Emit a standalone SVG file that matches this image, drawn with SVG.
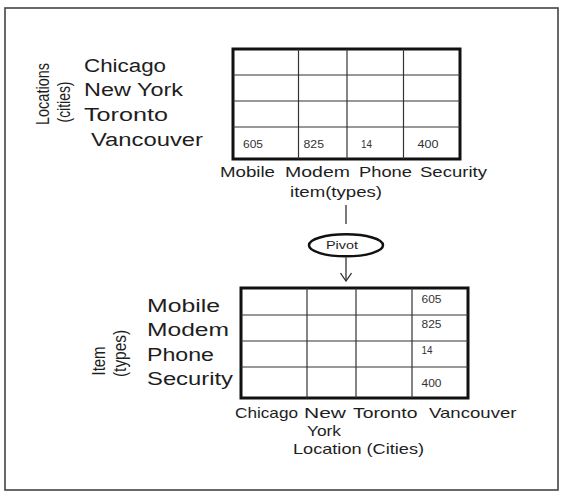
<svg xmlns="http://www.w3.org/2000/svg" width="567" height="504" viewBox="0 0 567 504">
<style>
  text { font-family: "Liberation Sans", Arial, sans-serif; fill: #1e1e1e; }
  .lbl { font-size: 18px; }
  .lbl2 { font-size: 18px; }
  .ax { font-size: 15px; }
  .val { font-size: 11px; fill: #333; }
  .grid { stroke: #333; stroke-width: 1.2; fill: none; }
  .frame { stroke: #111; stroke-width: 3; fill: none; }
  .conn { stroke: #333; stroke-width: 1.3; fill: none; }
</style>
<defs>
  <marker id="vhead" viewBox="0 0 10 12" refX="9" refY="6" markerWidth="10" markerHeight="12" markerUnits="userSpaceOnUse" orient="auto">
    <path d="M1,0.5 L9,6 L1,11.5" fill="none" stroke="#333" stroke-width="1.3"/>
  </marker>
</defs>
<rect x="0" y="0" width="567" height="504" fill="#ffffff"/>
<rect id="outer-border" x="5" y="8" width="553" height="482" fill="#ffffff" stroke="#444" stroke-width="1.6"/>

<g id="top-axis-labels">
  <text class="lbl2" transform="translate(49,94) rotate(-90)" text-anchor="middle" textLength="62" lengthAdjust="spacingAndGlyphs">Locations</text>
  <text class="lbl2" transform="translate(70,102) rotate(-90)" text-anchor="middle" textLength="41" lengthAdjust="spacingAndGlyphs">(cities)</text>
  <text class="lbl" x="84" y="72" textLength="82" lengthAdjust="spacingAndGlyphs">Chicago</text>
  <text class="lbl" x="84" y="96" textLength="99" lengthAdjust="spacingAndGlyphs">New York</text>
  <text class="lbl" x="84" y="121" textLength="84" lengthAdjust="spacingAndGlyphs">Toronto</text>
  <text class="lbl" x="91" y="146" textLength="112" lengthAdjust="spacingAndGlyphs">Vancouver</text>
</g>

<g id="top-table">
  <rect class="frame" x="233" y="49" width="227" height="110"/>
  <line class="grid" x1="298.5" y1="49" x2="298.5" y2="159"/>
  <line class="grid" x1="347" y1="49" x2="347" y2="159"/>
  <line class="grid" x1="403.5" y1="49" x2="403.5" y2="159"/>
  <line class="grid" x1="233" y1="75" x2="460" y2="75"/>
  <line class="grid" x1="233" y1="101" x2="460" y2="101"/>
  <line class="grid" x1="233" y1="127" x2="460" y2="127"/>
  <text class="val" x="243" y="147.5" textLength="20" lengthAdjust="spacingAndGlyphs">605</text>
  <text class="val" x="303.5" y="147.5" textLength="20.5" lengthAdjust="spacingAndGlyphs">825</text>
  <text class="val" x="361" y="147.5" textLength="11" lengthAdjust="spacingAndGlyphs">14</text>
  <text class="val" x="417.5" y="147.5" textLength="21" lengthAdjust="spacingAndGlyphs">400</text>
</g>

<g id="top-item-labels">
  <text class="ax" x="220" y="177" textLength="55" lengthAdjust="spacingAndGlyphs">Mobile</text>
  <text class="ax" x="285" y="177" textLength="65" lengthAdjust="spacingAndGlyphs">Modem</text>
  <text class="ax" x="359" y="177" textLength="53" lengthAdjust="spacingAndGlyphs">Phone</text>
  <text class="ax" x="420" y="177" textLength="67" lengthAdjust="spacingAndGlyphs">Security</text>
  <text class="ax" x="290" y="196.5" textLength="92" lengthAdjust="spacingAndGlyphs">item(types)</text>
</g>

<g id="connectors">
  <line class="conn" x1="346" y1="205" x2="346" y2="224"/>
  <line class="conn" x1="346" y1="257.5" x2="346" y2="281" marker-end="url(#vhead)"/>
</g>

<g id="pivot">
  <ellipse cx="346" cy="245.3" rx="37" ry="11" fill="#ffffff" stroke="#111" stroke-width="2.5"/>
  <text x="342" y="249.3" font-size="11" text-anchor="middle" textLength="32" lengthAdjust="spacingAndGlyphs">Pivot</text>
</g>

<g id="bottom-axis-labels">
  <text class="lbl2" transform="translate(105,361) rotate(-90)" text-anchor="middle" textLength="29" lengthAdjust="spacingAndGlyphs">Item</text>
  <text class="lbl2" transform="translate(126,353.5) rotate(-90)" text-anchor="middle" textLength="47" lengthAdjust="spacingAndGlyphs">(types)</text>
  <text class="lbl" x="147" y="311.5" textLength="73" lengthAdjust="spacingAndGlyphs">Mobile</text>
  <text class="lbl" x="147" y="336" textLength="82" lengthAdjust="spacingAndGlyphs">Modem</text>
  <text class="lbl" x="147" y="361" textLength="67" lengthAdjust="spacingAndGlyphs">Phone</text>
  <text class="lbl" x="147" y="385" textLength="86" lengthAdjust="spacingAndGlyphs">Security</text>
</g>

<g id="bottom-table">
  <rect class="frame" x="241" y="288" width="227" height="110"/>
  <line class="grid" x1="307" y1="288" x2="307" y2="398"/>
  <line class="grid" x1="356" y1="288" x2="356" y2="398"/>
  <line class="grid" x1="412" y1="288" x2="412" y2="398"/>
  <line class="grid" x1="241" y1="315" x2="468" y2="315"/>
  <line class="grid" x1="241" y1="341" x2="468" y2="341"/>
  <line class="grid" x1="241" y1="367" x2="468" y2="367"/>
  <text class="val" x="421.5" y="302.5" textLength="20" lengthAdjust="spacingAndGlyphs">605</text>
  <text class="val" x="421.5" y="328" textLength="20" lengthAdjust="spacingAndGlyphs">825</text>
  <text class="val" x="421.5" y="354" textLength="11" lengthAdjust="spacingAndGlyphs">14</text>
  <text class="val" x="421.5" y="386.5" textLength="20" lengthAdjust="spacingAndGlyphs">400</text>
</g>

<g id="bottom-city-labels">
  <text class="ax" x="235" y="417.5" textLength="63" lengthAdjust="spacingAndGlyphs">Chicago</text>
  <text class="ax" x="304" y="417.5" textLength="42" lengthAdjust="spacingAndGlyphs">New</text>
  <text class="ax" x="353" y="417.5" textLength="64.5" lengthAdjust="spacingAndGlyphs">Toronto</text>
  <text class="ax" x="429" y="417.5" textLength="87.5" lengthAdjust="spacingAndGlyphs">Vancouver</text>
  <text class="ax" x="307" y="435.5" textLength="34" lengthAdjust="spacingAndGlyphs">York</text>
  <text class="ax" x="293" y="454" textLength="131" lengthAdjust="spacingAndGlyphs">Location (Cities)</text>
</g>
</svg>
